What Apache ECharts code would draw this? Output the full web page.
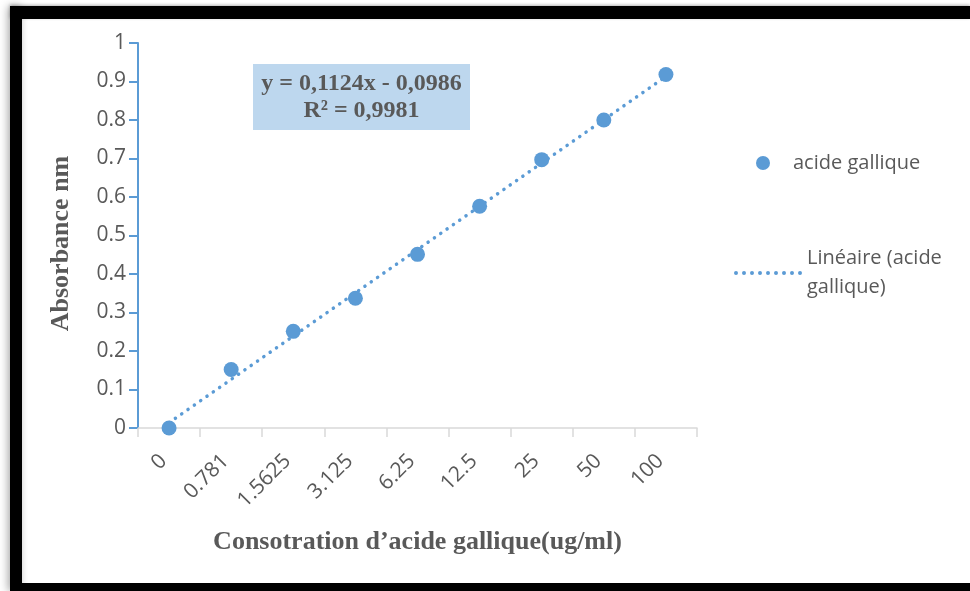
<!DOCTYPE html>
<html>
<head>
<meta charset="utf-8">
<script src="https://cdn.jsdelivr.net/npm/echarts@6/dist/echarts.min.js"></script>
<style>
  html, body { margin: 0; padding: 0; background: #ffffff; }
  #chart { width: 970px; height: 591px; }
</style>
</head>
<body>
<div id="chart"></div>
<script>
// Gallic acid calibration: concentration categories and measured absorbance
const concentrations = ['0', '0.781', '1.5625', '3.125', '6.25', '12.5', '25', '50', '100'];
const absorbance = [0, 0.152, 0.251, 0.337, 0.451, 0.576, 0.697, 0.8, 0.918];
const yTicks = [0, 0.1, 0.2, 0.3, 0.4, 0.5, 0.6, 0.7, 0.8, 0.9, 1];

// Linear fit as stated in the equation label (x = category rank 1..9)
const fitSlope = 0.1124;
const fitIntercept = -0.0986;
const fitR2 = '0,9981';
const equationText = 'y = 0,1124x - 0,0986';

const seriesName = 'acide gallique';
const trendName = 'Linéaire (acide gallique)';

const blue = '#5B9BD5';
const textGrey = '#595959';

// trend line endpoints at first and last category
const first = concentrations[0], last = concentrations[concentrations.length - 1];
const trendData = [
  [first, fitIntercept + fitSlope * 1],
  [last, fitIntercept + fitSlope * concentrations.length]
];

// dotted legend glyph: 9 small dots
let dotPath = 'path://';
for (let i = 0; i < 9; i++) {
  const cx = 2 + i * 8;
  dotPath += 'M' + (cx - 2) + ',2a2,2 0 1,0 4,0a2,2 0 1,0 -4,0';
}

const chart = echarts.init(document.getElementById('chart'), null, { renderer: 'canvas' });

chart.setOption({
  backgroundColor: '#ffffff',
  animation: false,
  grid: { left: 138, right: 273, top: 43, bottom: 163, containLabel: false },
  xAxis: {
    type: 'category',
    data: concentrations,
    boundaryGap: true,
    name: 'Consotration d’acide gallique(ug/ml)',
    nameLocation: 'middle',
    nameGap: 101,
    nameTextStyle: {
      fontFamily: '"Liberation Serif", "DejaVu Serif", serif',
      fontWeight: 'bold',
      fontSize: 26,
      color: textGrey
    },
    axisLine: { lineStyle: { color: '#D9D9D9', width: 1.5 } },
    axisTick: { show: true, length: 9, inside: false, lineStyle: { color: '#D9D9D9', width: 1.5 } },
    axisLabel: {
      rotate: 45,
      margin: 24,
      interval: 0,
      padding: [0, 8, 0, 0],
      fontFamily: '"Open Sans", "Noto Sans", sans-serif',
      fontSize: 21,
      color: textGrey
    },
    splitLine: { show: false }
  },
  yAxis: {
    type: 'value',
    min: yTicks[0],
    max: yTicks[yTicks.length - 1],
    interval: 0.1,
    name: 'Absorbance nm',
    nameLocation: 'middle',
    nameGap: 64,
    nameRotate: 90,
    nameTextStyle: {
      fontFamily: '"Liberation Serif", "DejaVu Serif", serif',
      fontWeight: 'bold',
      fontSize: 26,
      color: textGrey,
      padding: [0, 16, 0, 0]
    },
    axisLine: { show: true, lineStyle: { color: blue, width: 2 } },
    axisTick: { show: true, length: 9, lineStyle: { color: blue, width: 2 } },
    axisLabel: {
      margin: 12,
      fontFamily: '"Open Sans", "Noto Sans", sans-serif',
      fontSize: 21,
      color: textGrey,
      formatter: function (v) { return String(Math.round(v * 10) / 10); }
    },
    splitLine: { show: false }
  },
  legend: [
    {
      data: [seriesName],
      left: 751,
      top: 148,
      orient: 'vertical',
      icon: 'circle',
      itemWidth: 14,
      itemHeight: 14,
      textStyle: {
        fontFamily: '"Open Sans", "Noto Sans", sans-serif',
        fontSize: 20,
        color: textGrey,
        padding: [0, 0, 0, 18]
      },
      selectedMode: false
    },
    {
      data: [{ name: trendName, icon: dotPath }],
      left: 729,
      top: 239,
      orient: 'vertical',
      itemWidth: 68,
      itemHeight: 4,
      itemStyle: { color: blue },
      formatter: function () { return 'Linéaire (acide\ngallique)'; },
      textStyle: {
        fontFamily: '"Open Sans", "Noto Sans", sans-serif',
        fontSize: 20,
        lineHeight: 29,
        color: textGrey,
        padding: [0, 0, 0, 0]
      },
      selectedMode: false
    }
  ],
  series: [
    {
      name: trendName,
      type: 'line',
      data: trendData,
      symbol: 'none',
      z: 2,
      lineStyle: { color: blue, width: 3.5, type: [0.1, 7.6], cap: 'round' },
      itemStyle: { color: blue }
    },
    {
      name: seriesName,
      type: 'scatter',
      data: absorbance,
      symbol: 'circle',
      symbolSize: 15,
      z: 3,
      itemStyle: { color: blue, opacity: 1 }
    }
  ],
  graphic: [
    // frame around the chart
    {
      type: 'rect', z: 100,
      shape: { x: 10, y: 6, width: 12, height: 585 },
      style: { fill: '#000', shadowColor: 'rgba(0,0,0,0.35)', shadowBlur: 8, shadowOffsetX: -2 }
    },
    {
      type: 'rect', z: 100,
      shape: { x: 10, y: 6, width: 960, height: 13 },
      style: { fill: '#000', shadowColor: 'rgba(0,0,0,0.3)', shadowBlur: 3, shadowOffsetY: -1 }
    },
    {
      type: 'rect', z: 100,
      shape: { x: 10, y: 583, width: 960, height: 8 },
      style: { fill: '#000' }
    },
    // regression equation box
    {
      type: 'rect', z: 50,
      shape: { x: 253, y: 64, width: 217, height: 66 },
      style: { fill: '#BDD7EE' }
    },
    {
      type: 'text', z: 51,
      x: 361.5, y: 97,
      style: {
        text: equationText + '\nR² = ' + fitR2,
        fontFamily: '"Liberation Serif", "DejaVu Serif", serif',
        fontWeight: 'bold',
        fontSize: 24,
        lineHeight: 27,
        fill: textGrey,
        align: 'center',
        verticalAlign: 'middle'
      }
    }
  ]
});
</script>
</body>
</html>
